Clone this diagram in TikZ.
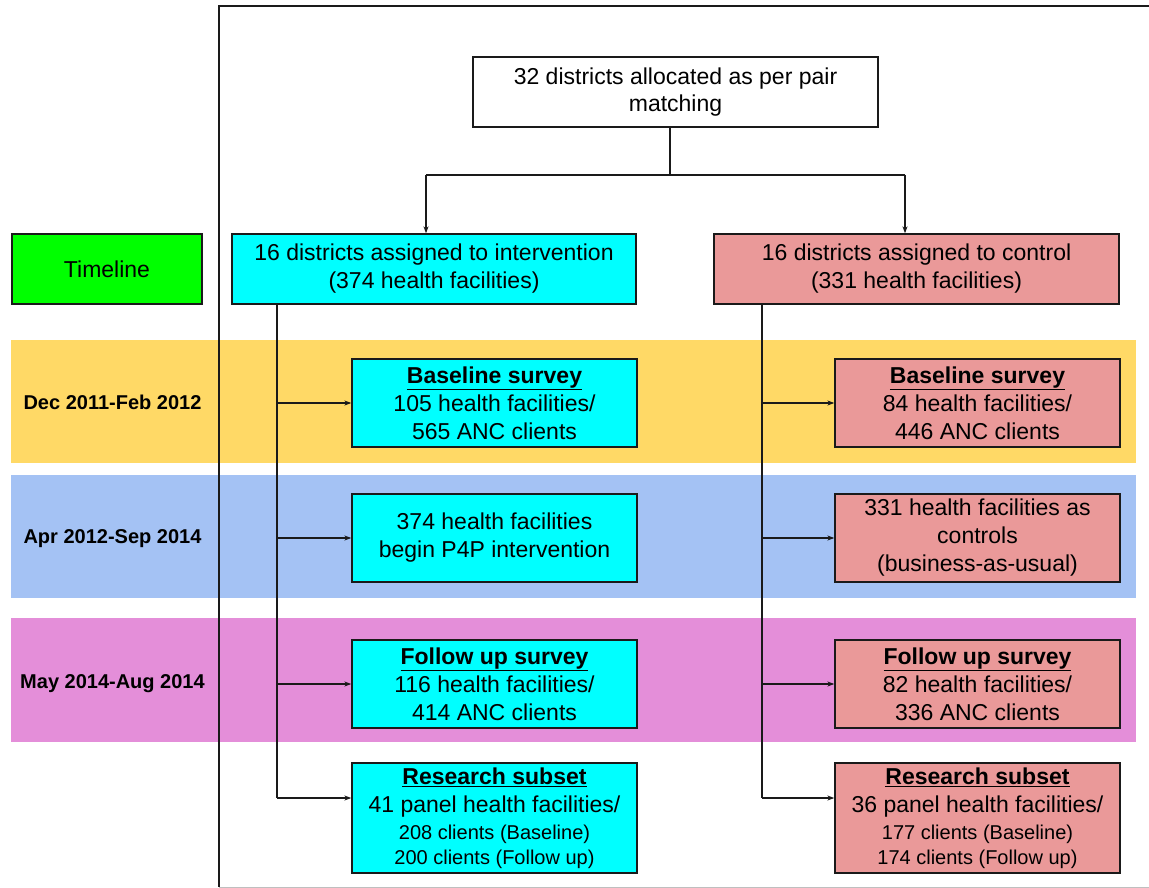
\documentclass[tikz,border=0pt]{standalone}
\usepackage{fontspec}
\setmainfont{Liberation Sans}
\usetikzlibrary{arrows.meta}
\definecolor{bandyellow}{HTML}{FFD966}
\definecolor{bandblue}{HTML}{A4C2F4}
\definecolor{bandpink}{HTML}{E48ED9}
\definecolor{boxcyan}{HTML}{00FFFF}
\definecolor{boxred}{HTML}{EA9999}
\definecolor{boxgreen}{HTML}{00FF00}
\definecolor{linecol}{HTML}{1A1A1A}
\newcommand{\hd}[1]{\underline{\textbf{#1}}}
\begin{document}
\begin{tikzpicture}[x=1pt,y=-1pt,
  every node/.style={font=\fontsize{23}{28}\selectfont, text=black, inner sep=0pt, align=center},
  box/.style={draw=linecol, line width=1.3pt, rectangle},
  ibox/.style={box, fill=boxcyan, minimum width=285pt, minimum height=88pt},
  cbox/.style={box, fill=boxred, minimum width=285pt, minimum height=88pt},
  datelbl/.style={font=\bfseries\fontsize{20}{24}\selectfont},
  conn/.style={draw=linecol, line width=1.2pt},
  arr/.style={conn, -{Stealth[length=7pt,width=5pt]}}]
\useasboundingbox (0,0) rectangle (1149,888);
\fill[white] (0,0) rectangle (1149,888);
% timeline bands
\fill[bandyellow] (11,340) rectangle (1136,463);
\fill[bandblue] (11,475) rectangle (1136,598);
\fill[bandpink] (11,618) rectangle (1136,742);
% frame
\draw[conn] (1160,6) -- (219,6) -- (219,887);
\draw[black!25, line width=1pt] (219,887) -- (1160,887);
% top nodes
\node[box, fill=white, minimum width=405pt, minimum height=70pt] (top) at (675.5,92) {32 districts allocated as per pair\\[-1pt]matching};
\node[box, fill=boxgreen, minimum width=190pt, minimum height=70pt] (timeline) at (107,269) {Timeline};
\node[box, fill=boxcyan, minimum width=404pt, minimum height=70pt] (interv) at (434,269) {16 districts assigned to intervention\\(374 health facilities)};
\node[box, fill=boxred, minimum width=405pt, minimum height=70pt] (control) at (916.5,269) {16 districts assigned to control\\(331 health facilities)};
% dates
\node[datelbl] (d1) at (112.5,402) {Dec 2011-Feb 2012};
\node[datelbl] (d2) at (112.5,539) {Apr 2012-Sep 2014};
\node[datelbl] (d3) at (112.5,684) {May 2014-Aug 2014};
% intervention arm boxes
\node[ibox] (i1) at (494.5,403) {\hd{Baseline survey}\\105 health facilities/\\565 ANC clients};
\node[ibox] (i2) at (494.5,538) {374 health facilities\\begin P4P intervention};
\node[ibox] (i3) at (494.5,684) {\hd{Follow up survey}\\116 health facilities/\\414 ANC clients};
\node[ibox, minimum height=110pt] (i4) at (494.5,818) {\hd{Research subset}\\41 panel health facilities/\\[-1pt]{\fontsize{20}{24}\selectfont 208 clients (Baseline)}\\[-3pt]{\fontsize{20}{24}\selectfont 200 clients (Follow up)}};
% control arm boxes
\node[cbox] (c1) at (977.5,403) {\hd{Baseline survey}\\84 health facilities/\\446 ANC clients};
\node[cbox] (c2) at (977.5,538) {331 health facilities as\\controls\\(business-as-usual)};
\node[cbox] (c3) at (977.5,684) {\hd{Follow up survey}\\82 health facilities/\\336 ANC clients};
\node[cbox, minimum height=110pt] (c4) at (977.5,818) {\hd{Research subset}\\36 panel health facilities/\\[-1pt]{\fontsize{20}{24}\selectfont 177 clients (Baseline)}\\[-3pt]{\fontsize{20}{24}\selectfont 174 clients (Follow up)}};
% allocation connectors
\coordinate (split) at (670,175);
\coordinate (bl) at (426,175);
\coordinate (br) at (905,175);
\draw[conn] (top.south -| split) -- (split);
\draw[conn] (bl) -- (br);
\draw[arr] (bl) -- (bl |- interv.north);
\draw[arr] (br) -- (br |- control.north);
% intervention spine
\coordinate (lv) at (277,798);
\draw[conn] (interv.south -| lv) -- (lv);
\draw[arr] (i1.west -| lv) -- (i1.west);
\draw[arr] (i2.west -| lv) -- (i2.west);
\draw[arr] (i3.west -| lv) -- (i3.west);
\draw[arr] (lv) -- (lv -| i4.west);
% control spine
\coordinate (rv) at (762,798);
\draw[conn] (control.south -| rv) -- (rv);
\draw[arr] (c1.west -| rv) -- (c1.west);
\draw[arr] (c2.west -| rv) -- (c2.west);
\draw[arr] (c3.west -| rv) -- (c3.west);
\draw[arr] (rv) -- (rv -| c4.west);
\end{tikzpicture}
\end{document}
